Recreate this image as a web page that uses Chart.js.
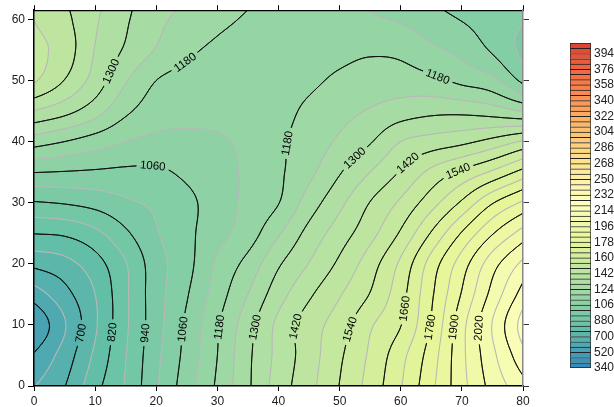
<!DOCTYPE html>
<html>
<head>
<meta charset="utf-8">
<script src="https://cdn.jsdelivr.net/npm/chart.js@4.4.1/dist/chart.umd.min.js"></script>
<style>
html, body { margin: 0; padding: 0; background: #fff; overflow: hidden; width: 614px; height: 407px; }
#wrap { position: relative; width: 614px; height: 407px; }
#main { position: absolute; left: 0; top: 0; }
#bar { position: absolute; left: 560px; top: 0; }
</style>
</head>
<body>
<div id="wrap">
  <canvas id="main" width="614" height="407"></canvas>
  <canvas id="bar" width="80" height="407"></canvas>
</div>
<script>
// grid of values (x every 5, y every 5)
const xGrid = [0, 5, 10, 15, 20, 25, 30, 35, 40, 45, 50, 55, 60, 65, 70, 75, 80];
const yGrid = [0, 5, 10, 15, 20, 25, 30, 35, 40, 45, 50, 55, 60];

const z00 = [637, 698, 800, 886, 993, 1093, 1190, 1290, 1388, 1461, 1542, 1623, 1716, 1826, 1940, 2041, 2118];
const z05 = [585, 667, 772, 878, 985, 1080, 1180, 1287, 1378, 1452, 1530, 1610, 1700, 1810, 1945, 2065, 2180];
const z10 = [525, 635, 752, 870, 976, 1072, 1173, 1275, 1375, 1450, 1510, 1592, 1658, 1785, 1940, 2083, 2225];
const z15 = [610, 680, 760, 870, 975, 1055, 1150, 1240, 1335, 1410, 1475, 1543, 1638, 1770, 1905, 2040, 2165];
const z20 = [715, 740, 795, 877, 975, 1040, 1130, 1200, 1292, 1362, 1432, 1512, 1612, 1745, 1870, 1995, 2095];
const z25 = [822, 830, 865, 930, 995, 1044, 1100, 1150, 1233, 1320, 1390, 1460, 1548, 1665, 1785, 1895, 1985];
const z30 = [935, 945, 962, 990, 1012, 1045, 1090, 1135, 1178, 1268, 1345, 1422, 1490, 1575, 1670, 1775, 1850];
const z35 = [1062, 1057, 1052, 1048, 1050, 1072, 1100, 1130, 1170, 1225, 1295, 1360, 1425, 1495, 1552, 1610, 1680];
const z40 = [1207, 1180, 1150, 1120, 1105, 1100, 1110, 1135, 1170, 1205, 1250, 1295, 1360, 1385, 1405, 1440, 1487];
const z45 = [1357, 1320, 1265, 1192, 1150, 1145, 1145, 1150, 1165, 1190, 1220, 1245, 1270, 1285, 1285, 1270, 1238];
const z50 = [1488, 1418, 1335, 1245, 1180, 1160, 1155, 1155, 1160, 1170, 1190, 1205, 1208, 1195, 1165, 1135, 1045];
const z55 = [1500, 1452, 1357, 1292, 1236, 1192, 1170, 1160, 1155, 1155, 1165, 1172, 1165, 1132, 1102, 1052, 985];
const z60 = [1479, 1435, 1368, 1308, 1255, 1222, 1193, 1175, 1165, 1157, 1148, 1130, 1112, 1085, 1057, 1030, 1003];
const zGrid = [z00, z05, z10, z15, z20, z25, z30, z35, z40, z45, z50, z55, z60];

const xTicks = [0, 10, 20, 30, 40, 50, 60, 70, 80];
const yTicks = [0, 10, 20, 30, 40, 50, 60];
const barTicks = [340, 520, 700, 880, 1060, 1240, 1420, 1600, 1780, 1960, 2140, 2320, 2500, 2680, 2860, 3040, 3220, 3400, 3580, 3760, 3940];
const levelLo = 340, levelHi = 4060, levelStep = 60;

const family = '"Liberation Sans", Arial, Helvetica, sans-serif';
Chart.defaults.font.family = family;

// colour map (spectral, reversed)
const stops = [[0, '#5e4fa2'], [0.1, '#3288bd'], [0.2, '#66c2a5'], [0.3, '#abdda4'], [0.4, '#e6f598'],
  [0.5, '#ffffbf'], [0.6, '#fee08b'], [0.7, '#fdae61'], [0.8, '#f46d43'], [0.9, '#d73027'], [1, '#a50026']];
function hexRgb(h) {
  return [parseInt(h.slice(1, 3), 16), parseInt(h.slice(3, 5), 16), parseInt(h.slice(5, 7), 16)];
}
function rgbAt(v) {
  let t = 0.1 + (v - 340) * 0.75 / 3600;
  t = Math.max(0, Math.min(1, t));
  for (let i = 0; i < stops.length - 1; i++) {
    if (t <= stops[i + 1][0]) {
      const f = (t - stops[i][0]) / (stops[i + 1][0] - stops[i][0]);
      const a = hexRgb(stops[i][1]), b = hexRgb(stops[i + 1][1]);
      return [0, 1, 2].map(k => Math.round(a[k] + (b[k] - a[k]) * f));
    }
  }
  return hexRgb(stops[stops.length - 1][1]);
}
const nBands = Math.round((levelHi - levelLo) / levelStep);
const bandRgb = [];
for (let k = 0; k < nBands; k++) bandRgb.push(rgbAt(levelLo + k * levelStep + levelStep / 2));

// smooth surface through the grid values (catmull-rom)
function gv(i, j) {
  const nx = xGrid.length, ny = yGrid.length;
  if (i < 0) return 2 * gv(0, j) - gv(1, j);
  if (i >= nx) return 2 * gv(nx - 1, j) - gv(nx - 2, j);
  if (j < 0) return 2 * gv(i, 0) - gv(i, 1);
  if (j >= ny) return 2 * gv(i, ny - 1) - gv(i, ny - 2);
  return zGrid[j][i];
}
function cr(p0, p1, p2, p3, t) {
  return 0.5 * (2 * p1 + (-p0 + p2) * t + (2 * p0 - 5 * p1 + 4 * p2 - p3) * t * t + (-p0 + 3 * p1 - 3 * p2 + p3) * t * t * t);
}
function field(x, y) {
  const yTop = yGrid[yGrid.length - 1];
  if (y > yTop) {
    const a = field(x, yTop), b = field(x, yTop - 1);
    return a + (y - yTop) * (a - b);
  }
  const dx = xGrid[1] - xGrid[0], dy = yGrid[1] - yGrid[0];
  const u = (x - xGrid[0]) / dx, v = (y - yGrid[0]) / dy;
  let i = Math.floor(u), j = Math.floor(v);
  i = Math.max(0, Math.min(xGrid.length - 2, i));
  j = Math.max(0, Math.min(yGrid.length - 2, j));
  const tu = u - i, tv = v - j;
  const c = [];
  for (let b = -1; b <= 2; b++) {
    c.push(cr(gv(i - 1, j + b), gv(i, j + b), gv(i + 1, j + b), gv(i + 2, j + b), tu));
  }
  return cr(c[0], c[1], c[2], c[3], tv);
}

// where the level labels sit (data coords, nearest line point is used)
const labelSpots = [
  [700, 7.6, 8.7], [820, 13.1, 8.7], [940, 18.3, 8.7], [1060, 24.6, 9.3], [1180, 30.4, 9.6],
  [1300, 36.3, 9.6], [1420, 43.5, 9.6], [1540, 52.5, 9.0], [1660, 60.9, 12.6], [1780, 64.8, 9.6],
  [1900, 68.6, 9.6], [2020, 72.7, 9.5],
  [1060, 19.5, 36.4], [1300, 12.4, 51.6], [1180, 24.7, 53], [1180, 41.9, 39.7],
  [1300, 52.2, 37.7], [1420, 61.2, 36.4], [1540, 69.4, 35], [1180, 65.9, 50.3]
];

const contourPlugin = {
  id: 'contour',
  beforeDraw(chart) {
    const ctx = chart.ctx, a = chart.chartArea;
    const sx = chart.scales.x, sy = chart.scales.y;
    const W = Math.round(a.right - a.left), H = Math.round(a.bottom - a.top);
    const F = new Float64Array(W * H);
    const xs = [], ys = [];
    for (let c = 0; c < W; c++) xs.push(sx.getValueForPixel(a.left + c + 0.5));
    for (let r = 0; r < H; r++) ys.push(sy.getValueForPixel(a.top + r + 0.5));
    for (let r = 0; r < H; r++) for (let c = 0; c < W; c++) F[r * W + c] = field(xs[c], ys[r]);

    // filled bands
    const off = document.createElement('canvas');
    off.width = W; off.height = H;
    const octx = off.getContext('2d');
    const img = octx.createImageData(W, H);
    for (let p = 0; p < W * H; p++) {
      let k = Math.floor((F[p] - levelLo) / levelStep);
      k = Math.max(0, Math.min(nBands - 1, k));
      const col = bandRgb[k];
      img.data[p * 4] = col[0]; img.data[p * 4 + 1] = col[1]; img.data[p * 4 + 2] = col[2]; img.data[p * 4 + 3] = 255;
    }
    octx.putImageData(img, 0, 0);
    ctx.drawImage(off, a.left, a.top);

    // contour lines, marching squares
    const segs = {};
    for (let r = 0; r < H - 1; r++) {
      for (let c = 0; c < W - 1; c++) {
        const v0 = F[r * W + c], v1 = F[r * W + c + 1], v2 = F[(r + 1) * W + c + 1], v3 = F[(r + 1) * W + c];
        const lo = Math.min(v0, v1, v2, v3), hi = Math.max(v0, v1, v2, v3);
        const k0 = Math.ceil((lo - levelLo) / levelStep), k1 = Math.floor((hi - levelLo) / levelStep);
        for (let k = Math.max(1, k0); k <= Math.min(nBands - 1, k1); k++) {
          const L = levelLo + k * levelStep;
          const X = a.left + c + 0.5, Y = a.top + r + 0.5;
          const pts = [];
          const edge = (va, vb, xa, ya, xb, yb) => {
            if ((va >= L) !== (vb >= L)) {
              const f = (L - va) / (vb - va);
              pts.push([xa + (xb - xa) * f, ya + (yb - ya) * f]);
            }
          };
          edge(v0, v1, X, Y, X + 1, Y);
          edge(v1, v2, X + 1, Y, X + 1, Y + 1);
          edge(v2, v3, X + 1, Y + 1, X, Y + 1);
          edge(v3, v0, X, Y + 1, X, Y);
          if (!segs[k]) segs[k] = [];
          if (pts.length === 2) segs[k].push([pts[0][0], pts[0][1], pts[1][0], pts[1][1]]);
          else if (pts.length === 4) {
            segs[k].push([pts[0][0], pts[0][1], pts[1][0], pts[1][1]]);
            segs[k].push([pts[2][0], pts[2][1], pts[3][0], pts[3][1]]);
          }
        }
      }
    }

    // label placement
    ctx.font = '11.5px ' + family;
    const labels = [];
    labelSpots.forEach(s => {
      const k = Math.round((s[0] - levelLo) / levelStep);
      const list = segs[k];
      if (!list) return;
      const hx = sx.getPixelForValue(s[1]), hy = sy.getPixelForValue(s[2]);
      let best = null, bd = 1e9;
      list.forEach(g => {
        const mx = (g[0] + g[2]) / 2, my = (g[1] + g[3]) / 2;
        const d = (mx - hx) ** 2 + (my - hy) ** 2;
        if (d < bd) { bd = d; best = [mx, my]; }
      });
      let n = 0, mx = 0, my = 0;
      const near = [];
      list.forEach(g => {
        const px = (g[0] + g[2]) / 2, py = (g[1] + g[3]) / 2;
        if ((px - best[0]) ** 2 + (py - best[1]) ** 2 < 100) { near.push([px, py]); mx += px; my += py; n++; }
      });
      mx /= n; my /= n;
      let sxx = 0, syy = 0, sxy = 0;
      near.forEach(p => { sxx += (p[0] - mx) ** 2; syy += (p[1] - my) ** 2; sxy += (p[0] - mx) * (p[1] - my); });
      const ang = 0.5 * Math.atan2(2 * sxy, sxx - syy);
      const text = String(s[0]);
      labels.push({ x: best[0], y: best[1], ang, text, w: ctx.measureText(text).width + 7, h: 12 });
    });

    ctx.save();
    ctx.beginPath();
    ctx.rect(a.left, a.top, a.right - a.left, a.bottom - a.top);
    labels.forEach(l => {
      const ca = Math.cos(l.ang), sa = Math.sin(l.ang);
      const corners = [[-l.w / 2, -l.h / 2], [l.w / 2, -l.h / 2], [l.w / 2, l.h / 2], [-l.w / 2, l.h / 2]];
      corners.forEach((p, i) => {
        const px = l.x + p[0] * ca - p[1] * sa, py = l.y + p[0] * sa + p[1] * ca;
        if (i === 0) ctx.moveTo(px, py); else ctx.lineTo(px, py);
      });
      ctx.closePath();
    });
    ctx.clip('evenodd');
    ctx.lineCap = 'round';
    Object.keys(segs).forEach(key => {
      const k = +key;
      const black = k % 2 === 0;
      ctx.beginPath();
      segs[k].forEach(g => { ctx.moveTo(g[0], g[1]); ctx.lineTo(g[2], g[3]); });
      ctx.strokeStyle = black ? '#111' : '#b8b8b8';
      ctx.lineWidth = black ? 1 : 1.1;
      ctx.stroke();
    });
    ctx.restore();

    ctx.save();
    ctx.fillStyle = '#000';
    ctx.textAlign = 'center';
    ctx.textBaseline = 'middle';
    labels.forEach(l => {
      ctx.save();
      ctx.translate(l.x, l.y);
      ctx.rotate(l.ang);
      ctx.fillText(l.text, 0, 0.5);
      ctx.restore();
    });
    ctx.restore();
  }
};

const setTicks = arr => s => { s.ticks = arr.map(v => ({ value: v })); };

new Chart(document.getElementById('main'), {
  type: 'scatter',
  data: { datasets: [{ data: [] }] },
  options: {
    responsive: false,
    animation: false,
    events: [],
    plugins: { legend: { display: false }, tooltip: { enabled: false } },
    scales: {
      x: {
        type: 'linear', position: 'bottom', min: 0, max: 80,
        afterBuildTicks: setTicks(xTicks), afterFit: s => { s.height = 21; },
        grid: { drawOnChartArea: false, tickLength: 5, color: '#000' },
        border: { color: '#000', width: 1.5 },
        ticks: { color: '#222', font: { size: 12 }, padding: 3, maxRotation: 0 }
      },
      x2: {
        type: 'linear', position: 'top', min: 0, max: 80,
        afterBuildTicks: setTicks(xTicks), afterFit: s => { s.height = 10; },
        grid: { drawOnChartArea: false, tickLength: 5, color: '#000' },
        border: { color: '#000', width: 1.2 },
        ticks: { display: false }
      },
      y: {
        type: 'linear', position: 'left', min: 0, max: 61.5,
        afterBuildTicks: setTicks(yTicks), afterFit: s => { s.width = 34; },
        grid: { drawOnChartArea: false, tickLength: 6, color: '#000' },
        border: { color: '#000', width: 1.5 },
        ticks: { color: '#222', font: { size: 12 }, padding: 3 }
      },
      y2: {
        type: 'linear', position: 'right', min: 0, max: 61.5,
        afterBuildTicks: setTicks(yTicks), afterFit: s => { s.width = 91; },
        grid: { drawOnChartArea: false, tickLength: 6, color: '#333' },
        border: { color: '#888', width: 1.5 },
        ticks: { display: false }
      }
    }
  },
  plugins: [contourPlugin]
});

// colour bar
const bandStarts = [];
for (let v = levelLo; v < levelHi; v += levelStep) bandStarts.push(v);
new Chart(document.getElementById('bar'), {
  type: 'bar',
  data: {
    labels: [''],
    datasets: bandStarts.map((v, i) => {
      const c = rgbAt(v + levelStep / 2);
      return {
        data: [[v, v + levelStep]],
        backgroundColor: 'rgb(' + c.join(',') + ')',
        borderColor: '#222',
        borderWidth: i === 0 ? 1 : { top: 1, left: 1, right: 1, bottom: 0 },
        borderSkipped: false,
        grouped: false,
        barPercentage: 1,
        categoryPercentage: 1
      };
    })
  },
  options: {
    responsive: false,
    animation: false,
    events: [],
    plugins: { legend: { display: false }, tooltip: { enabled: false } },
    layout: { padding: { left: 10, top: 43, bottom: 39 } },
    scales: {
      x: { display: false },
      y: {
        position: 'right', min: levelLo, max: levelHi,
        afterBuildTicks: setTicks(barTicks), afterFit: s => { s.width = 49; },
        grid: { display: false, drawTicks: false },
        border: { display: false },
        ticks: { color: '#222', font: { size: 12 }, padding: 3, autoSkip: false, callback: v => String(v) }
      }
    }
  }
});
</script>
</body>
</html>
